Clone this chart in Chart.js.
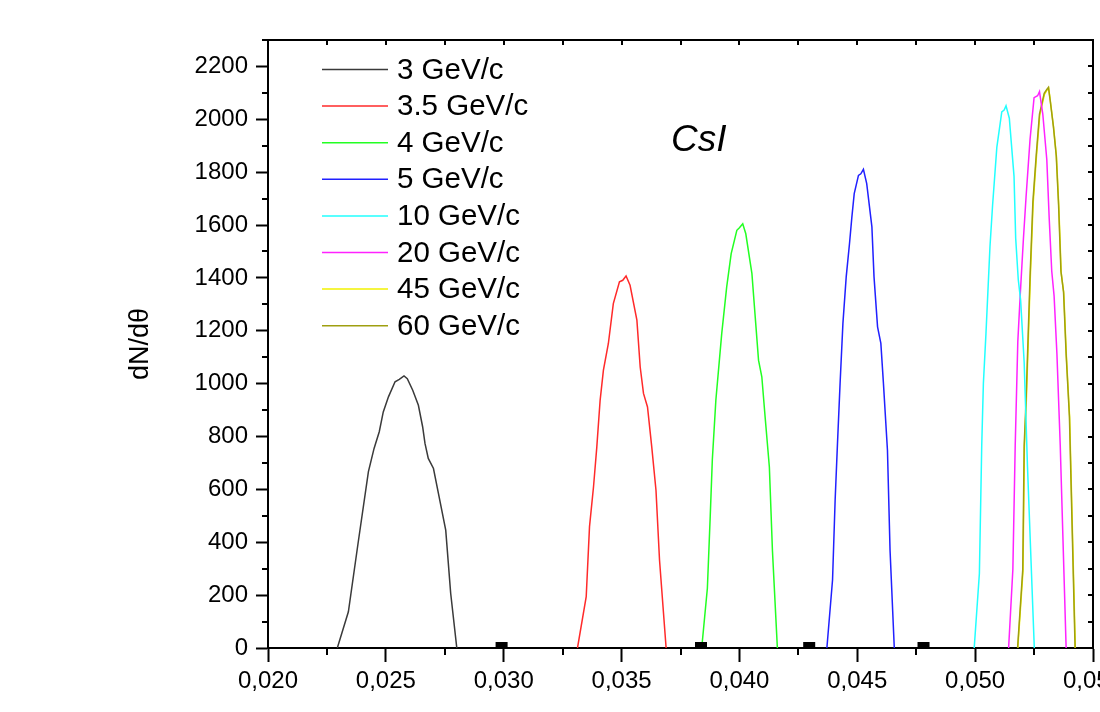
<!DOCTYPE html>
<html>
<head>
<meta charset="utf-8">
<title>CsI dN/dθ</title>
<script src="https://cdn.jsdelivr.net/npm/chart.js@4.4.1/dist/chart.umd.min.js"></script>
<style>
  html, body { margin: 0; padding: 0; overflow: hidden; background: #fff; }
  #wrap { width: 1130px; height: 712px; }
</style>
</head>
<body>
<div id="wrap"><canvas id="chart" width="1130" height="712"></canvas></div>
<script>
// ---- Datos ----

const seriesLabels = ['3 GeV/c', '3.5 GeV/c', '4 GeV/c', '5 GeV/c', '10 GeV/c', '20 GeV/c', '45 GeV/c', '60 GeV/c'];
const seriesColors = ['#3a3a3a', '#ff2a2a', '#22ff22', '#2020ff', '#22ffff', '#ff22ff', '#f2f200', '#9f9f10'];

const x3  = [0.02294, 0.02341, 0.02383, 0.02426, 0.02450, 0.02472, 0.02489, 0.02511, 0.02539, 0.02557, 0.02577, 0.02591, 0.02614, 0.02638, 0.02656, 0.02666, 0.02680, 0.02702, 0.02723, 0.02754, 0.02775, 0.02801];
const y3  = [0, 137, 402, 667, 755, 818, 893, 950, 1007, 1016, 1029, 1019, 975, 918, 837, 774, 717, 679, 585, 446, 207, 0];

const x35 = [0.03313, 0.03350, 0.03364, 0.03381, 0.03395, 0.03409, 0.03423, 0.03444, 0.03465, 0.03491, 0.03505, 0.03519, 0.03536, 0.03565, 0.03579, 0.03593, 0.03610, 0.03628, 0.03646, 0.03661, 0.03689];
const y35 = [0, 194, 459, 610, 761, 937, 1051, 1152, 1303, 1385, 1391, 1407, 1372, 1240, 1063, 963, 912, 761, 597, 333, 0];

const x4  = [0.03840, 0.03864, 0.03876, 0.03885, 0.03900, 0.03925, 0.03946, 0.03965, 0.03989, 0.04000, 0.04014, 0.04027, 0.04053, 0.04067, 0.04081, 0.04095, 0.04109, 0.04127, 0.04140, 0.04161];
const y4  = [0, 226, 496, 711, 937, 1190, 1366, 1492, 1580, 1590, 1605, 1567, 1416, 1252, 1089, 1026, 874, 685, 370, 0];

const x5  = [0.04371, 0.04395, 0.04406, 0.04416, 0.04427, 0.04439, 0.04453, 0.04467, 0.04477, 0.04487, 0.04505, 0.04515, 0.04526, 0.04540, 0.04562, 0.04571, 0.04586, 0.04600, 0.04611, 0.04628, 0.04639, 0.04657];
const y5  = [0, 257, 559, 774, 1000, 1227, 1404, 1530, 1630, 1719, 1788, 1794, 1811, 1757, 1593, 1404, 1215, 1152, 1000, 748, 370, 0];

const x10 = [0.04996, 0.05018, 0.05028, 0.05035, 0.05046, 0.05063, 0.05074, 0.05092, 0.05113, 0.05123, 0.05131, 0.05145, 0.05165, 0.05172, 0.05183, 0.05193, 0.05208, 0.05222, 0.05251];
const y10 = [0, 282, 767, 1002, 1191, 1520, 1675, 1894, 2028, 2035, 2051, 2004, 1784, 1550, 1393, 1315, 1080, 688, 0];

const x20 = [0.05142, 0.05160, 0.05170, 0.05181, 0.05191, 0.05205, 0.05216, 0.05233, 0.05250, 0.05265, 0.05273, 0.05287, 0.05304, 0.05314, 0.05325, 0.05335, 0.05347, 0.05361, 0.05386];
const y20 = [0, 297, 767, 1159, 1331, 1551, 1706, 1925, 2082, 2089, 2105, 2020, 1848, 1629, 1425, 1331, 1111, 767, 0];

const x45 = [0.05181, 0.05203, 0.05209, 0.05217, 0.05234, 0.05246, 0.05260, 0.05274, 0.05294, 0.05305, 0.05312, 0.05319, 0.05333, 0.05345, 0.05355, 0.05365, 0.05376, 0.05387, 0.05401, 0.05425];
const y45 = [0, 290, 760, 930, 1400, 1680, 1858, 2015, 2094, 2110, 2118, 2070, 1968, 1858, 1670, 1420, 1342, 1106, 870, 0];

const x60 = [0.05180, 0.05202, 0.05208, 0.05216, 0.05233, 0.05245, 0.05259, 0.05273, 0.05293, 0.05304, 0.05311, 0.05318, 0.05332, 0.05344, 0.05354, 0.05364, 0.05375, 0.05386, 0.05400, 0.05424];
const y60 = [0, 297, 767, 936, 1406, 1688, 1863, 2020, 2098, 2113, 2121, 2074, 1972, 1863, 1675, 1425, 1347, 1111, 875, 0];

// marcadores negros sobre el eje
const xMarks = [0.02991, 0.03837, 0.04296, 0.04781];
const yMarks = [0, 0, 0, 0];

const seriesX = [x3, x35, x4, x5, x10, x20, x45, x60];
const seriesY = [y3, y35, y4, y5, y10, y20, y45, y60];

const X_MIN = 0.020, X_MAX = 0.055, X_STEP = 0.005;
const Y_MIN = 0, Y_MAX = 2300, Y_STEP = 200;

const FONT = "'Liberation Sans', Arial, sans-serif";

const toPoints = (xs, ys) => xs.map((x, i) => ({ x, y: ys[i] }));

// ---- Plugin: marco, ticks menores, leyenda y rótulo ----

const framePlugin = {
  id: 'frame',
  afterDraw(chart) {
    const { ctx, chartArea: a } = chart;
    const xs = chart.scales.x, ys = chart.scales.y;
    ctx.save();
    ctx.strokeStyle = '#000';
    ctx.lineWidth = 2;

    // borde superior y derecho
    ctx.beginPath();
    ctx.moveTo(a.left, a.top);
    ctx.lineTo(a.right, a.top);
    ctx.lineTo(a.right, a.bottom);
    ctx.stroke();

    // ticks eje x (menores abajo, todos arriba hacia dentro)
    const nx = Math.round((X_MAX - X_MIN) / (X_STEP / 2));
    for (let i = 0; i <= nx; i++) {
      const px = Math.round(xs.getPixelForValue(X_MIN + i * X_STEP / 2));
      ctx.beginPath();
      ctx.moveTo(px, a.top);
      ctx.lineTo(px, a.top + 5);
      if (i % 2 === 1) {
        ctx.moveTo(px, a.bottom);
        ctx.lineTo(px, a.bottom + 7);
      }
      ctx.stroke();
    }

    // ticks eje y
    const ny = Math.round((Y_MAX - Y_MIN) / (Y_STEP / 2));
    for (let i = 0; i <= ny; i++) {
      const py = Math.round(ys.getPixelForValue(Y_MIN + i * Y_STEP / 2));
      ctx.beginPath();
      ctx.moveTo(a.right, py);
      ctx.lineTo(a.right - 5, py);
      if (i % 2 === 1) {
        ctx.moveTo(a.left, py);
        ctx.lineTo(a.left - 6, py);
      }
      ctx.stroke();
    }

    // leyenda
    ctx.font = '29.5px ' + FONT;
    ctx.textBaseline = 'middle';
    ctx.textAlign = 'left';
    seriesLabels.forEach((label, i) => {
      const y = a.top + 29.5 + i * 36.6;
      ctx.strokeStyle = seriesColors[i];
      ctx.lineWidth = 1.5;
      ctx.beginPath();
      ctx.moveTo(a.left + 54, y);
      ctx.lineTo(a.left + 120, y);
      ctx.stroke();
      ctx.fillStyle = '#000';
      ctx.fillText(label, a.left + 129, y + 1);
    });

    // rótulo del material
    ctx.font = 'italic 37px ' + FONT;
    ctx.fillText('CsI', 671, 141);
    ctx.restore();
  }
};

// ---- Gráfico ----

const datasets = seriesLabels.map((label, i) => ({
  label,
  data: toPoints(seriesX[i], seriesY[i]),
  borderColor: seriesColors[i],
  borderWidth: 1.5,
  pointRadius: 0,
  tension: 0,
  fill: false,
  order: label === '45 GeV/c' ? 2 : 1
}));

datasets.push({
  label: 'marks',
  type: 'scatter',
  data: toPoints(xMarks, yMarks),
  showLine: false,
  pointStyle: 'rect',
  pointRadius: 8.5,
  backgroundColor: '#000',
  borderColor: '#000',
  borderWidth: 0,
  clip: 0,
  order: 0
});

new Chart(document.getElementById('chart'), {
  type: 'line',
  data: { datasets },
  plugins: [framePlugin],
  options: {
    responsive: false,
    animation: false,
    devicePixelRatio: 1,
    layout: { padding: { top: 40, right: 37, left: 0, bottom: 0 } },
    plugins: {
      legend: { display: false },
      tooltip: { enabled: false }
    },
    scales: {
      x: {
        type: 'linear',
        min: X_MIN,
        max: X_MAX,
        afterFit: (s) => { s.height = 64; },
        border: { display: true, color: '#000', width: 2 },
        grid: { drawOnChartArea: false, drawTicks: true, tickLength: 14, tickWidth: 2, tickColor: '#000' },
        ticks: {
          stepSize: X_STEP,
          includeBounds: false,
          padding: 5,
          color: '#000',
          maxRotation: 0,
          font: { family: FONT, size: 24 },
          callback: (v) => v.toFixed(3).replace('.', ',')
        }
      },
      y: {
        min: Y_MIN,
        max: Y_MAX,
        afterFit: (s) => { s.width = 268; },
        border: { display: true, color: '#000', width: 2 },
        grid: { drawOnChartArea: false, drawTicks: true, tickLength: 12, tickWidth: 2, tickColor: '#000' },
        ticks: {
          stepSize: Y_STEP,
          includeBounds: false,
          padding: 8,
          color: '#000',
          font: { family: FONT, size: 24 },
          callback: (v) => String(v)
        },
        title: {
          display: true,
          text: 'dN/dθ',
          color: '#000',
          font: { family: FONT, size: 27 },
          padding: { top: 124, bottom: 4 }
        }
      }
    }
  }
});
</script>
</body>
</html>
